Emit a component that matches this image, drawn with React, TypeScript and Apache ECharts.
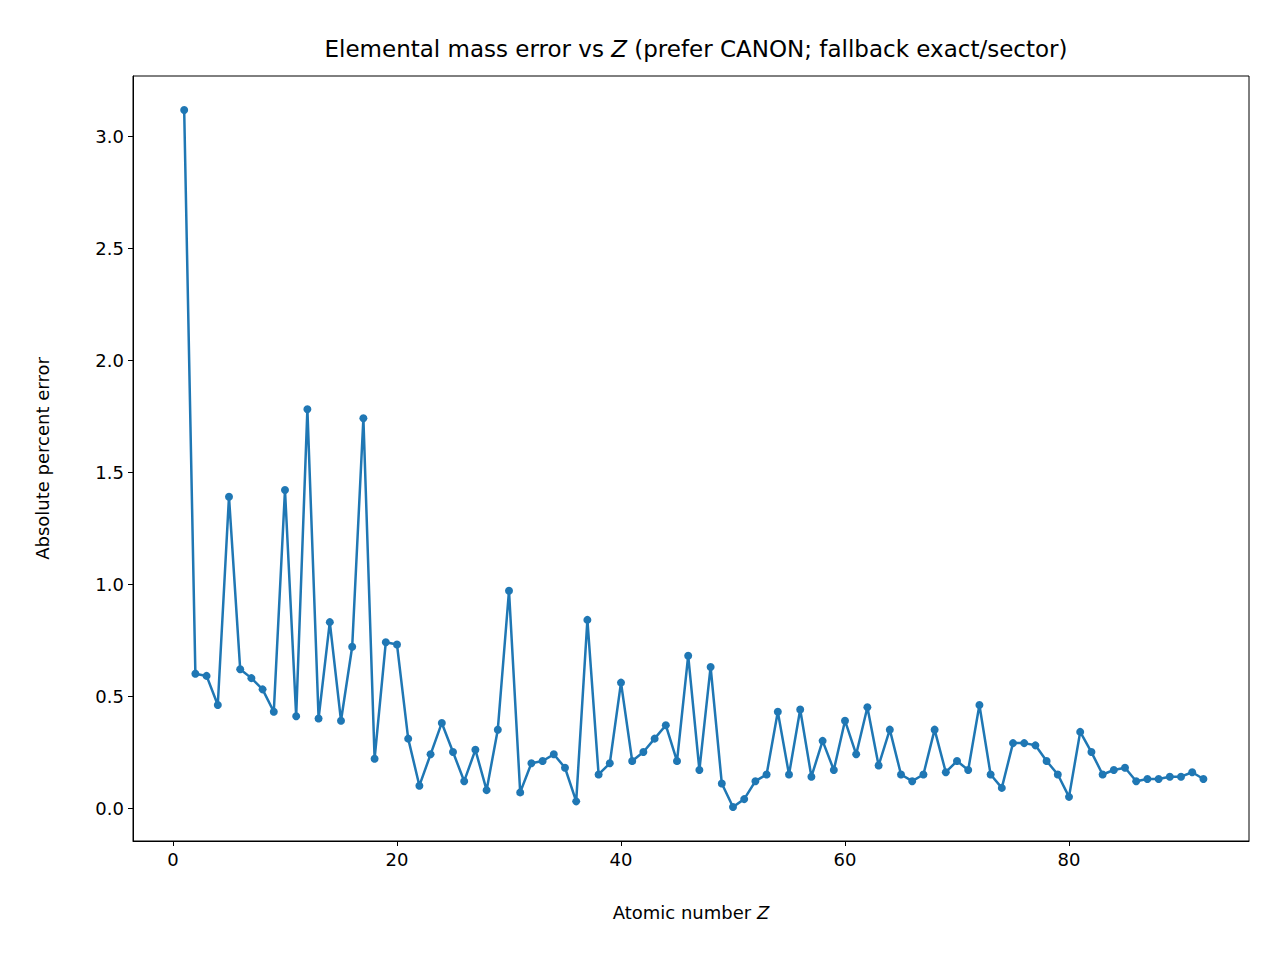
import { useEffect, useRef } from 'react';
import * as echarts from 'echarts';

const atomicNumbers: number[] = Array.from({ length: 92 }, (_, i) => i + 1);
const percentErrors: number[] = [
  3.116, 0.6, 0.59, 0.46, 1.39, 0.62, 0.58, 0.53, 0.43, 1.42,
  0.41, 1.78, 0.4, 0.83, 0.39, 0.72, 1.74, 0.22, 0.74, 0.73,
  0.31, 0.1, 0.24, 0.38, 0.25, 0.12, 0.26, 0.08, 0.35, 0.97,
  0.07, 0.2, 0.21, 0.24, 0.18, 0.03, 0.84, 0.15, 0.2, 0.56,
  0.21, 0.25, 0.31, 0.37, 0.21, 0.68, 0.17, 0.63, 0.11, 0.005,
  0.04, 0.12, 0.15, 0.43, 0.15, 0.44, 0.14, 0.3, 0.17, 0.39,
  0.24, 0.45, 0.19, 0.35, 0.15, 0.12, 0.15, 0.35, 0.16, 0.21,
  0.17, 0.46, 0.15, 0.09, 0.29, 0.29, 0.28, 0.21, 0.15, 0.05,
  0.34, 0.25, 0.15, 0.17, 0.18, 0.12, 0.13, 0.13, 0.14, 0.14,
  0.16, 0.13,
];
const xTicks = [0, 20, 40, 60, 80];
const yTicks = [0, 0.5, 1, 1.5, 2, 2.5, 3];

const FONT = 'DejaVu Sans';

export default function App(): JSX.Element {
  const chartRef = useRef<HTMLDivElement>(null);

  useEffect(() => {
    document.body.style.margin = '0';
    if (!chartRef.current) return;
    const chart = echarts.init(chartRef.current, undefined, { renderer: 'svg' });

    const option: echarts.EChartsOption = {
      animation: false,
      backgroundColor: '#fff',
      textStyle: { fontFamily: FONT },
      title: {
        text: 'Elemental mass error vs {i|Z} (prefer CANON; fallback exact/sector)',
        left: 691,
        top: 32,
        textAlign: 'center',
        textStyle: {
          fontFamily: FONT,
          fontSize: 23,
          fontWeight: 'normal',
          color: '#000',
          rich: { i: { fontFamily: FONT, fontSize: 23, fontStyle: 'italic', color: '#000' } },
        },
      },
      grid: {
        left: 133,
        right: 31,
        top: 76,
        bottom: 119,
        show: true,
        borderColor: '#000',
        borderWidth: 1,
      },
      xAxis: {
        type: 'value',
        min: -3.57,
        max: 96.07,
        name: 'Atomic number {i|Z}',
        nameLocation: 'middle',
        nameGap: 62,
        nameTextStyle: {
          fontFamily: FONT,
          fontSize: 18,
          color: '#000',
          rich: { i: { fontFamily: FONT, fontSize: 18, fontStyle: 'italic', color: '#000' } },
        },
        splitLine: { show: false },
        axisLine: { show: true, onZero: false, lineStyle: { color: '#000' } },
        axisTick: { show: true, length: 5, lineStyle: { color: '#000' }, customValues: xTicks },
        axisLabel: { color: '#000', fontSize: 18, margin: 9, customValues: xTicks },
      },
      yAxis: {
        type: 'value',
        min: -0.147,
        max: 3.268,
        name: 'Absolute percent error',
        nameLocation: 'middle',
        nameGap: 82,
        nameTextStyle: { fontFamily: FONT, fontSize: 18, color: '#000' },
        splitLine: { show: false },
        axisLine: { show: true, onZero: false, lineStyle: { color: '#000' } },
        axisTick: { show: true, length: 5, lineStyle: { color: '#000' }, customValues: yTicks },
        axisLabel: {
          color: '#000',
          fontSize: 18,
          margin: 9,
          customValues: yTicks,
          formatter: (v: number) => v.toFixed(1),
        },
      },
      series: [
        {
          type: 'line',
          data: atomicNumbers.map((z, i) => [z, percentErrors[i]]),
          symbol: 'circle',
          symbolSize: 8,
          showSymbol: true,
          lineStyle: { color: '#1f77b4', width: 2.5 },
          itemStyle: { color: '#1f77b4' },
        },
      ],
    };

    chart.setOption(option);
    return () => chart.dispose();
  }, []);

  return <div ref={chartRef} style={{ width: 1280, height: 960 }} />;
}
